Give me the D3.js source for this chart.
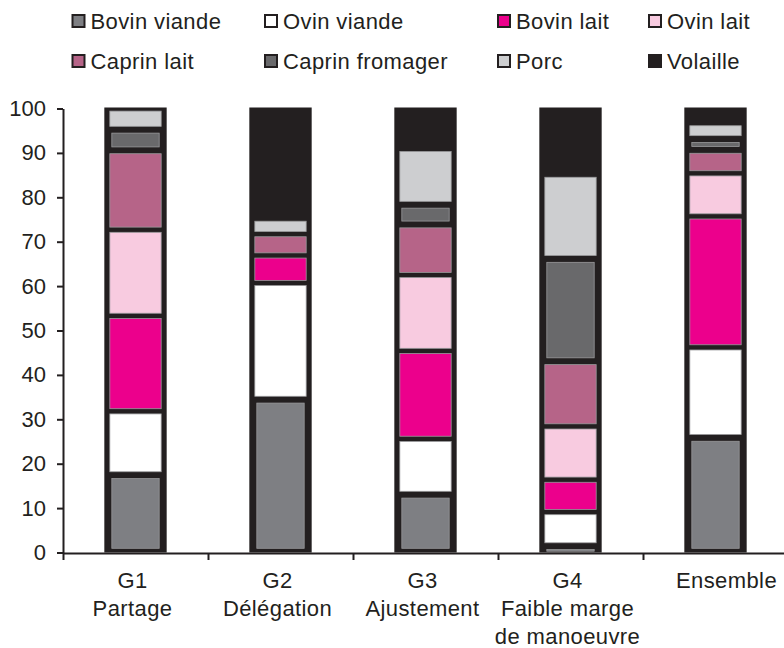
<!DOCTYPE html>
<html>
  <head>
    <meta charset="utf-8">
    <title>Repartition par groupe</title>
    <script src="https://cdn.jsdelivr.net/npm/d3@7"></script>
    <style>
      body { margin: 0; background: #fff; }
      text { font-family: 'Liberation Sans', Arial, sans-serif; fill: #231f20; }
    </style>
  </head>
  <body>
    <svg width="784" height="648" id="mainsvg"></svg>
    <script>
        // groups (two-line labels under the axis)
        const groups = ['G1', 'G2', 'G3', 'G4', 'Ensemble'];
        const groupLabels = [['G1', 'Partage'], ['G2', 'Délégation'], ['G3', 'Ajustement'],
          ['G4', 'Faible marge', 'de manoeuvre'], ['Ensemble']];

        // series, % per group
        const seriesNames = ['Bovin viande', 'Ovin viande', 'Bovin lait', 'Ovin lait',
          'Caprin lait', 'Caprin fromager', 'Porc', 'Volaille'];
        const bovinViande    = [17.6, 34.6, 13.2,  1.6, 26.0];
        const ovinViande     = [14.2, 26.1, 12.4,  7.5, 20.2];
        const bovinLait      = [21.5,  6.2, 19.8,  7.3, 29.5];
        const ovinLait       = [19.4,  0.0, 17.1, 12.0,  9.7];
        const caprinLait     = [17.7,  4.8, 11.2, 14.5,  5.1];
        const caprinFromager = [ 5.0,  0.0,  4.8, 23.4,  2.8];
        const porc           = [ 4.6,  3.5, 12.4, 18.8,  3.4];
        const volaille       = [ 0.0, 24.8,  9.1, 14.9,  3.3];

        const yTicks = [0, 10, 20, 30, 40, 50, 60, 70, 80, 90, 100];

        const colors = ['#7e7f83', '#ffffff', '#ec008c', '#f8cbe0',
          '#b66488', '#69696b', '#cdced0', '#231f20'];
        const dark = '#231f20';

        const allSeries = [bovinViande, ovinViande, bovinLait, ovinLait,
          caprinLait, caprinFromager, porc, volaille];
        const rows = groups.map((g, i) => {
          const r = {group: g};
          seriesNames.forEach((s, k) => { r[s] = allSeries[k][i]; });
          return r;
        });
        const stacked = d3.stack().keys(seriesNames)(rows);

        const svg = d3.select('#mainsvg');

        const xScale = d3.scaleBand()
          .domain(groups)
          .range([63, 788])
          .paddingInner(0.57)
          .paddingOuter(0.285);
        const xEdges = d3.scaleLinear().domain([0, groups.length]).range([63, 788]);

        const yScale = d3.scaleLinear()
          .domain([0, 100])
          .range([552.5, 108.5]);

        // axes
        const yAxis = d3.axisLeft(yScale).tickValues(yTicks)
          .tickSize(6).tickSizeOuter(0).tickPadding(11);
        const yg = svg.append('g').attr('transform', 'translate(63,0)').call(yAxis);

        const xAxis = d3.axisBottom(xEdges).tickValues(d3.range(0, groups.length))
          .tickSize(7).tickSizeOuter(0).tickFormat('');
        const xg = svg.append('g').attr('transform', 'translate(0,553)').call(xAxis);

        [yg, xg].forEach(a => {
          a.selectAll('path, line').attr('stroke', dark).attr('stroke-width', 2);
        });
        yg.selectAll('text').attr('font-size', '22px').attr('fill', dark)
          .style('font-family', "'Liberation Sans', Arial, sans-serif");

        // bars: black frame, then each segment inset inside it
        const bw = xScale.bandwidth();
        groups.forEach(g => {
          svg.append('rect')
            .attr('x', xScale(g))
            .attr('y', yScale(100) - 1)
            .attr('width', bw)
            .attr('height', yScale(0) - yScale(100) + 1)
            .attr('fill', dark);
        });

        stacked.forEach((layer, k) => {
          if (colors[k] === dark) return; // volaille blends into the frame
          const grey = (k === 0 || k === 5);
          const inset = grey ? 7.5 : 5.5;
          const gap = grey ? 4.2 : 2.6;
          layer.forEach((d, i) => {
            if (d[1] - d[0] <= 0) return;
            const y0 = yScale(d[0]), y1 = yScale(d[1]);
            svg.append('rect')
              .attr('x', xScale(groups[i]) + inset)
              .attr('y', y1 + gap)
              .attr('width', bw - 2 * inset)
              .attr('height', Math.max(1.6, y0 - y1 - 2 * gap))
              .attr('fill', colors[k])
              .attr('stroke', '#9a9a9c')
              .attr('stroke-width', 0.8);
          });
        });

        // category labels
        groupLabels.forEach((lines, i) => {
          const t = svg.append('text')
            .attr('text-anchor', 'middle')
            .attr('font-size', '22px')
            .attr('letter-spacing', '0.4px');
          lines.forEach((s, j) => {
            t.append('tspan')
              .attr('x', xScale(groups[i]) + bw / 2 + (i === 4 ? 11 : -3))
              .attr('y', 588 + j * 28)
              .text(s);
          });
        });

        // legend, 4 columns x 2 rows
        const legendX = [71.5, 264, 497, 648];
        const legendY = [14, 54];
        seriesNames.forEach((s, k) => {
          const lx = legendX[k % 4], ly = legendY[Math.floor(k / 4)];
          svg.append('rect')
            .attr('x', lx + 1).attr('y', ly + 1)
            .attr('width', 12).attr('height', 12)
            .attr('fill', colors[k])
            .attr('stroke', dark).attr('stroke-width', 2);
          svg.append('text')
            .attr('x', lx + 19).attr('y', ly + 14.5)
            .attr('font-size', '22px')
            .attr('letter-spacing', '0.4px')
            .text(s);
        });
    </script>
  </body>
</html>
